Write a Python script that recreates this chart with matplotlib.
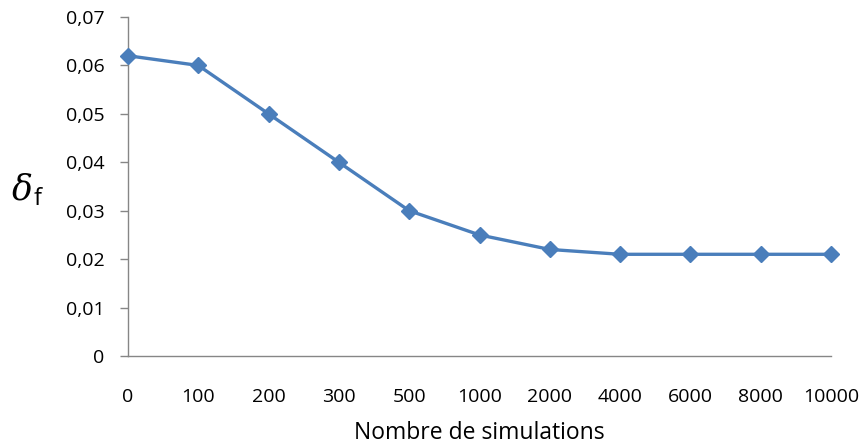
import matplotlib.pyplot as plt
import numpy as np

# data
simulations = ["0", "100", "200", "300", "500", "1000", "2000", "4000", "6000", "8000", "10000"]
delta_f = [0.062, 0.060, 0.050, 0.040, 0.030, 0.025, 0.022, 0.021, 0.021, 0.021, 0.021]
y_ticks = [0.0, 0.01, 0.02, 0.03, 0.04, 0.05, 0.06, 0.07]

LINE_COLOR = "#4A7EBB"
AXIS_COLOR = "#868686"
FONT = "Open Sans"

fig = plt.figure(figsize=(8.61, 4.45), dpi=100)
ax = fig.add_axes([128 / 861, 1 - 356 / 445, (831 - 128) / 861, (356 - 17) / 445])

x = np.arange(len(simulations))
ax.plot(x, delta_f, color=LINE_COLOR, linewidth=2.4, marker="D",
        markersize=8, markerfacecolor=LINE_COLOR, markeredgecolor=LINE_COLOR,
        clip_on=False, zorder=3)

ax.set_xlim(0, len(simulations) - 1)
ax.set_ylim(0, 0.07)
ax.set_xticks(x)
ax.set_xticklabels(simulations, fontsize=14, fontname=FONT)
ax.set_yticks(y_ticks)
ax.set_yticklabels(["0" if v == 0 else f"{v:.2f}".replace(".", ",") for v in y_ticks],
                   fontsize=14, fontname=FONT)

for side in ("top", "right"):
    ax.spines[side].set_visible(False)
for side in ("left", "bottom"):
    ax.spines[side].set_color(AXIS_COLOR)
    ax.spines[side].set_linewidth(1.0)

ax.tick_params(axis="x", length=0, pad=23)
ax.tick_params(axis="y", length=6, width=1.0, color=AXIS_COLOR, pad=11)

ax.set_xlabel("Nombre de simulations", fontsize=16.5, fontname=FONT, labelpad=10.5)

# y label: italic delta with subscript f
fig.text(12 / 861, 1 - 190 / 445, "δ", fontsize=25, style="italic",
         fontname="DejaVu Serif", va="center", ha="left")
fig.text(34 / 861, 1 - 199 / 445, "f", fontsize=17, fontname=FONT,
         va="center", ha="left")

plt.savefig("out.png", dpi=100)
plt.close()
